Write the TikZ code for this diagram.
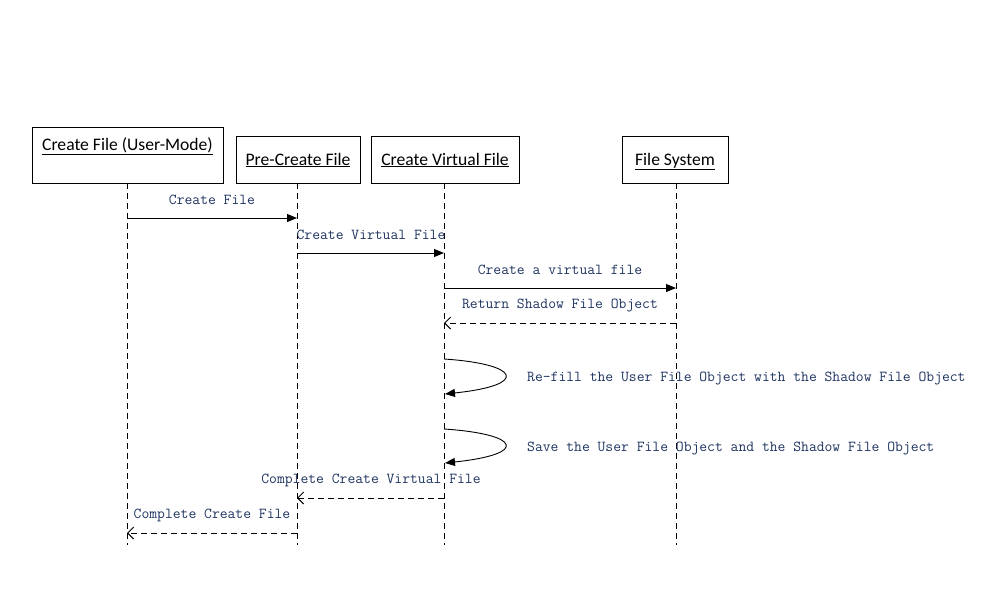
\documentclass[tikz,border=0pt]{standalone}
\usepackage{fontspec}
\setmainfont{Carlito}
\usetikzlibrary{arrows.meta}
\definecolor{msgcol}{RGB}{31,52,96}
\tikzset{
  objbox/.style={draw, line width=0.9pt, inner sep=0pt, font=\fontsize{17.6}{20}\selectfont},
  lifeline/.style={line width=0.9pt, dash pattern=on 6pt off 4pt},
  callmsg/.style={line width=0.9pt, -{Triangle[length=10pt,width=8pt]}},
  retmsg/.style={line width=0.9pt, dash pattern=on 6pt off 4pt, -{Straight Barb[length=6pt,width=12pt,line width=0.9pt]}},
  msglabel/.style={text=msgcol, font=\ttfamily\fontsize{15.2}{17}\selectfont, inner sep=0pt, yshift=-2pt}
}
\begin{document}
\begin{tikzpicture}[x=1pt,y=-1pt]
\useasboundingbox (0,0) rectangle (1002,595);
% object boxes
\node[objbox, minimum width=191pt, minimum height=56pt] (o1) at (127.5,155) {};
\node[font=\fontsize{17.6}{20}\selectfont, inner sep=0pt] (t1) at (127.5,146) {\underline{Create File (User-Mode)}};
\node[objbox, minimum width=124pt, minimum height=47pt, text depth=1pt] (o2) at (298,159.5) {\underline{Pre-Create File}};
\node[objbox, minimum width=148pt, minimum height=47pt, text depth=1pt] (o3) at (445,159.5) {\underline{Create Virtual File}};
\node[objbox, minimum width=106pt, minimum height=47pt, text depth=1pt] (o4) at (675,159.5) {\underline{File System}};
% lifeline ends
\coordinate (e1) at (127,545);
\coordinate (e2) at (297,545);
\coordinate (e3) at (444,545);
\coordinate (e4) at (676,545);
\draw[lifeline] (o1.south -| e1) -- (e1);
\draw[lifeline] (o2.south -| e2) -- (e2);
\draw[lifeline] (o3.south -| e3) -- (e3);
\draw[lifeline] (o4.south -| e4) -- (e4);
% message anchors
\coordinate (a1) at (127,218); \coordinate (b1) at (297,218);
\coordinate (a2) at (297,253); \coordinate (b2) at (444,253);
\coordinate (a3) at (444,288); \coordinate (b3) at (676,288);
\coordinate (a4) at (676,323); \coordinate (b4) at (444,323);
\coordinate (s1a) at (444,359); \coordinate (s1b) at (445,394);
\coordinate (s2a) at (444,429); \coordinate (s2b) at (445,463);
\coordinate (a7) at (444,498); \coordinate (b7) at (297,498);
\coordinate (a8) at (297,533); \coordinate (b8) at (127,533);
% messages
\draw[callmsg] (a1) -- (b1);
\node[msglabel] (l1) at (212,198) {Create File};
\draw[callmsg] (a2) -- (b2);
\node[msglabel] (l2) at (371,233) {Create Virtual File};
\draw[callmsg] (a3) -- (b3);
\node[msglabel] (l3) at (560,268) {Create a virtual file};
\draw[retmsg] (a4) -- (b4);
\node[msglabel] (l4) at (560,303) {Return Shadow File Object};
\draw[callmsg] (s1a) .. controls (520,364) and (530,385) .. (s1b);
\node[msglabel, anchor=west] (l5) at (527,376) {Re-fill the User File Object with the Shadow File Object};
\draw[callmsg] (s2a) .. controls (520,434) and (530,454) .. (s2b);
\node[msglabel, anchor=west] (l6) at (527,446) {Save the User File Object and the Shadow File Object};
\draw[retmsg] (a7) -- (b7);
\node[msglabel] (l7) at (371,478) {Complete Create Virtual File};
\draw[retmsg] (a8) -- (b8);
\node[msglabel] (l8) at (212,513) {Complete Create File};
\end{tikzpicture}
\end{document}
